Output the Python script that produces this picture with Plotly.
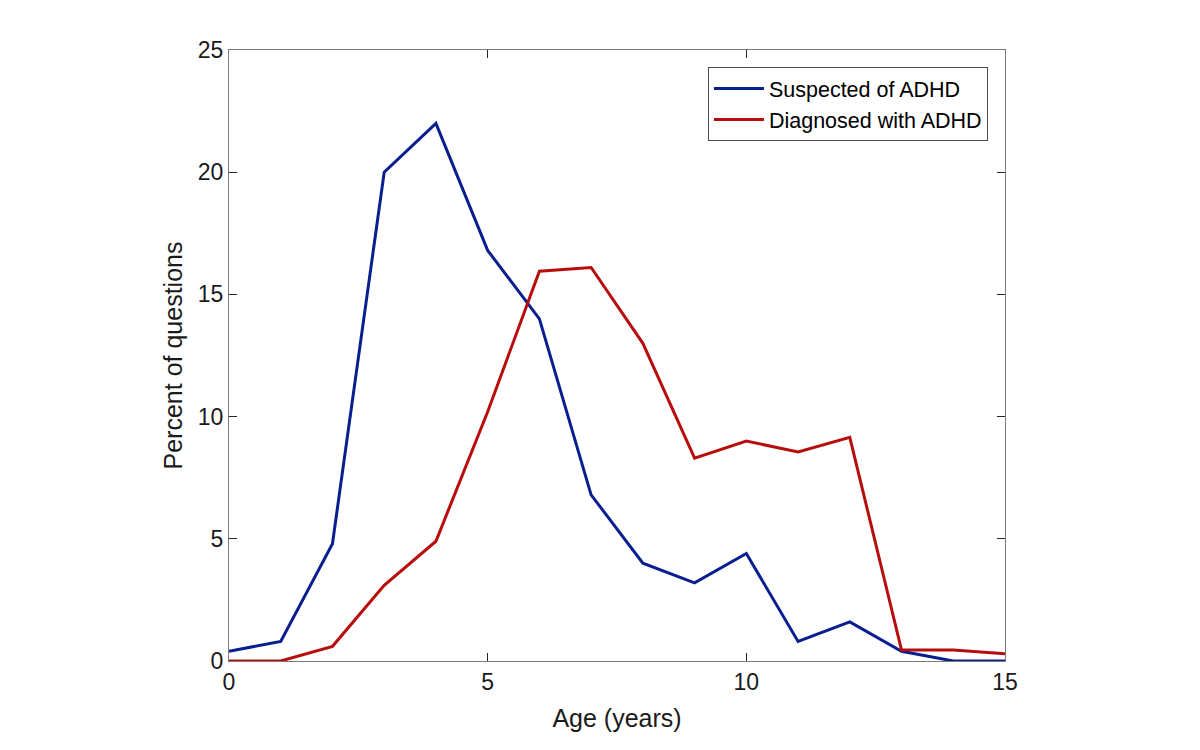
import plotly.graph_objects as go

ages = list(range(16))
suspected = [0.4, 0.8, 4.8, 20.0, 22.0, 16.8, 14.0, 6.8, 4.0, 3.2, 4.4, 0.8, 1.6, 0.4, 0.0, 0.0]
diagnosed = [0.0, 0.0, 0.6, 3.1, 4.9, 10.2, 15.95, 16.1, 13.0, 8.3, 9.0, 8.55, 9.15, 0.45, 0.45, 0.3]
x_ticks = [0, 5, 10, 15]
y_ticks = [0, 5, 10, 15, 20, 25]

fig = go.Figure()
fig.add_trace(go.Scatter(x=ages, y=suspected, mode="lines", name="Suspected of ADHD",
                         line=dict(color="#0a1f8f", width=3)))
fig.add_trace(go.Scatter(x=ages, y=diagnosed, mode="lines", name="Diagnosed with ADHD",
                         line=dict(color="#b80d0d", width=3)))

axis_common = dict(showgrid=False, zeroline=False, showline=True, linecolor="#7a7a7a", linewidth=1,
                   mirror="allticks", ticks="inside", ticklen=8, tickcolor="#262626",
                   tickfont=dict(size=23, color="#1a1a1a"))
fig.update_xaxes(range=[0, 15], tickvals=x_ticks,
                 title=dict(text="Age (years)", font=dict(size=25, color="#1a1a1a"), standoff=15),
                 **axis_common)
fig.update_yaxes(range=[0, 25], tickvals=y_ticks,
                 title=dict(text="Percent of questions", font=dict(size=25, color="#1a1a1a"), standoff=8),
                 **axis_common)

fig.update_layout(
    width=1200, height=750,
    margin=dict(l=221, r=203, t=42, b=97),
    plot_bgcolor="white", paper_bgcolor="white",
    font=dict(family="Liberation Sans, Arial, sans-serif", color="#1a1a1a"),
    legend=dict(x=0.978, y=0.972, xanchor="right", yanchor="top",
                bordercolor="#4d4d4d", borderwidth=1, bgcolor="white",
                font=dict(size=21.5, color="#000000"), tracegroupgap=0, itemwidth=50),
)

fig.write_html("out.html")
